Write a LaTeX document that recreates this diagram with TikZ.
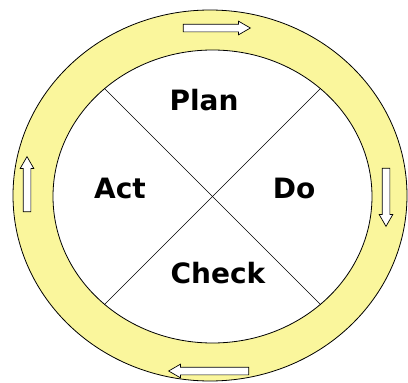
\documentclass[tikz,border=0pt]{standalone}
\usepackage{fontspec}
\setmainfont{DejaVu Sans}
\usetikzlibrary{shapes.geometric, shapes.arrows, positioning}
\definecolor{cycleyellow}{HTML}{FAF69C}

\begin{document}
\begin{tikzpicture}[
    x=1pt, y=-1pt,
    ring/.style={
      ellipse, draw=black, line width=0.8pt, inner sep=0pt
    },
    phase/.style={font=\bfseries\fontsize{28}{33}\selectfont, inner sep=0pt},
    flow/.style={
      single arrow, draw=black, fill=white, line width=0.7pt, inner sep=3.5pt,
      single arrow head extend=3pt, single arrow tip angle=60, minimum height=#1
    },
    split/.style={black, line width=0.6pt},
  ]
  \useasboundingbox (0,0) rectangle (408,383);
  \node[ring, fill=cycleyellow, minimum width=394pt, minimum height=371pt] (outer) at (210,195.5) {};
  \node[ring, fill=white, minimum width=319pt, minimum height=293pt] (inner) at (212.5,196.5) {};

  \draw[split] (inner.135) -- (inner.-45);
  \draw[split] (inner.45) -- (inner.-135);

  \node[flow=67pt] (toparrow) at (213.5,28) {};
  \node[flow=58pt, rotate=-90] (rightarrow) at (386,194) {};
  \node[flow=80pt, rotate=180] (bottomarrow) at (212,371) {};
  \node[flow=55pt, rotate=90] (leftarrow) at (27,187.5) {};

  \node[phase] (plan) at (204,100) {Plan};
  \node[phase] (act) at (120,188) {Act};
  \node[phase] (do) at (294,188) {Do};
  \node[phase] (check) at (218,273) {Check};
\end{tikzpicture}
\end{document}
